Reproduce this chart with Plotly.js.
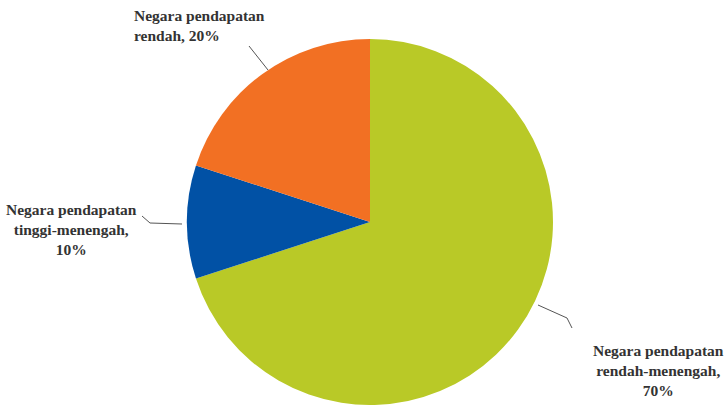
<!DOCTYPE html>
<html>
<head>
<meta charset="utf-8">
<script src="https://cdn.plot.ly/plotly-3.0.1.min.js"></script>
<style>html,body{margin:0;padding:0;background:#fff;}#chart{width:725px;height:405px;}</style>
</head>
<body>
<div id="chart"></div>
<script>
// Data
const categories = ["Negara pendapatan rendah-menengah", "Negara pendapatan tinggi-menengah", "Negara pendapatan rendah"];
const shares = [70, 10, 20];
const labelTexts = ["Negara pendapatan<br>rendah-menengah,<br>70%", "Negara pendapatan<br>tinggi-menengah,<br>10%", "Negara pendapatan<br>rendah, 20%"];
const colors = ["#B9C927", "#0151A5", "#F27023"];

const W = 725, H = 405;
const px = x => x / W;
const py = y => 1 - y / H;

const pieCx = 370, pieTop = 39, pieR = 183.5;

const trace = {
  type: "pie",
  values: shares,
  labels: categories,
  sort: false,
  direction: "clockwise",
  rotation: 0,
  textinfo: "none",
  hoverinfo: "none",
  marker: { colors: colors, line: { width: 0 } },
  showlegend: false,
  domain: { x: [px(pieCx - pieR), px(pieCx + pieR)], y: [0, py(pieTop)] }
};

const font = { family: "'Liberation Serif', 'DejaVu Serif', serif", size: 15.5, color: "#333333" };

const annotations = [
  { text: "<b>" + labelTexts[0] + "</b>", x: px(658), y: py(370), xanchor: "center", yanchor: "middle", align: "center" },
  { text: "<b>" + labelTexts[1] + "</b>", x: px(71), y: py(229), xanchor: "center", yanchor: "middle", align: "center" },
  { text: "<b>" + labelTexts[2] + "</b>", x: px(132), y: py(25), xanchor: "left", yanchor: "middle", align: "left" }
].map(a => Object.assign({ xref: "paper", yref: "paper", showarrow: false, font: font }, a));

const seg = (x0, y0, x1, y1) => ({ type: "line", xref: "paper", yref: "paper", x0: px(x0), y0: py(y0), x1: px(x1), y1: py(y1), line: { color: "#555", width: 1 } });

const shapes = [
  seg(538, 305, 567, 318), seg(567, 318, 572, 328),
  seg(182, 224, 150, 223), seg(150, 223, 142, 216),
  seg(268, 70, 249, 46)
];

Plotly.newPlot("chart", [trace], {
  width: W, height: H,
  margin: { l: 0, r: 0, t: 0, b: 0 },
  paper_bgcolor: "#fff",
  annotations: annotations,
  shapes: shapes
}, { displayModeBar: false, staticPlot: true });
</script>
</body>
</html>
